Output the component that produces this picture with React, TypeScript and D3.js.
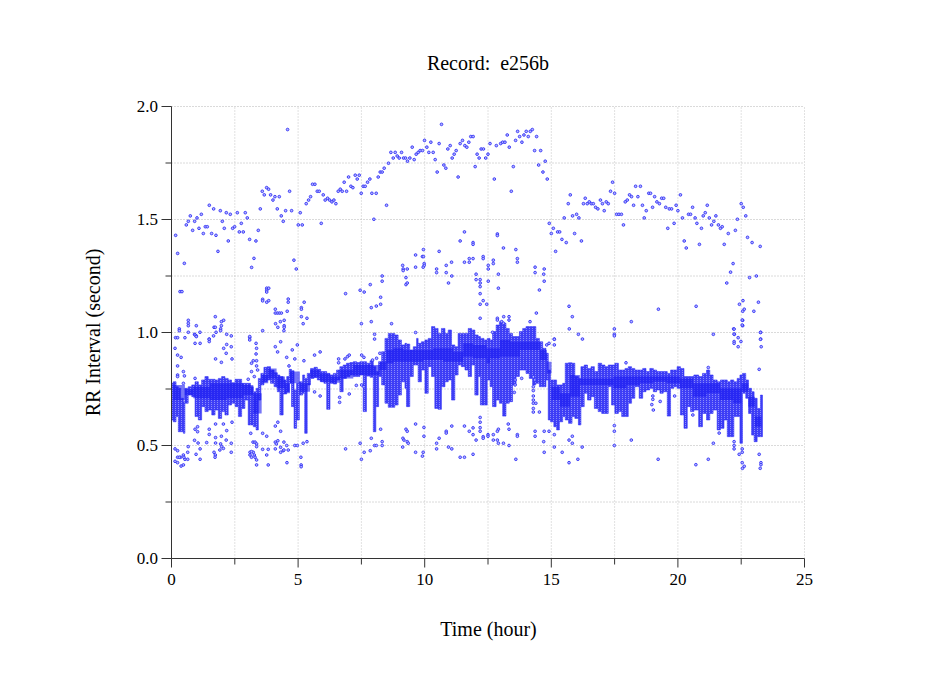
import React from "react";
import * as d3 from "d3";

const title = "Record:  e256b";
const xTitle = "Time (hour)";
const yTitle = "RR Interval (second)";
const xMajor = [0, 5, 10, 15, 20, 25];
const xMinor = [2.5, 7.5, 12.5, 17.5, 22.5];
const yMajor = [0, 0.5, 1, 1.5, 2];
const yMinor = [0.25, 0.75, 1.25, 1.75];

// Dense beat band: [hour, top of band, bottom of band]
const bandLeft: number[][] = [
[0.01,.775,.613],[.07,.782,.605],[.18,.76,.628],[.27,.753,.561],[.36,.709,.561],[.47,.694,.554],[.53,.753,.687],[.66,.76,.723],[.8,.768,.716],[.93,.782,.628],[1.06,.768,.613],[1.19,.79,.672],[1.32,.805,.65],[1.45,.793,.657],[1.59,.793,.635],[1.72,.79,.657],[1.85,.797,.62],[1.98,.805,.65],[2.11,.797,.635],[2.24,.79,.679],[2.37,.778,.687],[2.51,.793,.672],[2.64,.793,.628],[2.77,.775,.664],[2.9,.775,.701],[3.03,.775,.591],[3.12,.76,.591],[3.23,.738,.583],[3.34,.753,.569],[3.43,.797,.701],[3.53,.819,.768],[3.65,.846,.782],[3.78,.849,.79],[3.91,.834,.775],[4.05,.822,.76],[4.18,.812,.738],[4.28,.805,.635],[4.41,.79,.728],[4.55,.805,.738],[4.65,.837,.775],[4.74,.831,.672],[4.84,.746,.576],[4.94,.775,.613],[5.05,.782,.723],[5.18,.812,.731],[5.26,.797,.554],[5.36,.819,.768],[5.49,.841,.797],[5.63,.846,.801],[5.76,.837,.79],[5.89,.827,.782],[6.02,.827,.775],[6.13,.819,.66],[6.26,.812,.775],[6.39,.819,.772],[6.52,.834,.79],[6.65,.849,.738],[6.78,.856,.797],[6.91,.864,.805],[7.05,.867,.812],[7.18,.871,.805],[7.31,.867,.805],[7.44,.871,.812],[7.57,.871,.65],[7.7,.864,.807],[7.84,.875,.802],[7.97,.849,.561],[8.07,.827,.672],[8.18,.871,.805],
];
const bandMiddle: number[][] = [
[8.3,.915,.768],[8.43,.974,.687],[8.56,.996,.669],[8.69,.996,.669],[8.82,.989,.679],[8.95,.967,.723],[9.08,.945,.782],[9.22,.952,.753],[9.28,.949,.672],[9.41,.923,.805],[9.55,.937,.856],[9.68,.974,.856],[9.74,.952,.782],[9.87,.959,.834],[10.01,.967,.731],[10.14,.974,.849],[10.27,1.026,.805],[10.4,1.018,.664],[10.53,.996,.66],[10.66,1.018,.76],[10.8,.996,.782],[10.93,1.011,.79],[11.06,.945,.701],[11.19,.937,.812],[11.32,.996,.856],[11.45,.996,.849],[11.59,.996,.834],[11.72,1.018,.805],[11.85,1.011,.856],[11.98,.989,.723],[12.11,.982,.805],[12.2,.974,.679],[12.34,.967,.679],[12.47,.974,.79],[12.58,.967,.76],[12.68,1.004,.672],[12.82,1.033,.701],[12.95,1.048,.687],[13.08,1.041,.63],[13.21,1.018,.687],[13.34,.996,.694],[13.47,.982,.768],[13.61,.982,.805],[13.74,1.004,.834],[13.87,1.018,.834],[14,1.026,.819],[14.13,1.026,.797],[14.26,1.026,.768],[14.39,.974,.775],[14.53,.959,.76],[14.66,.93,.76],[14.79,.908,.79],
];
const bandRight: number[][] = [
[14.88,.834,.613],[14.97,.79,.605],[15.1,.79,.583],[15.21,.768,.569],[15.32,.768,.605],[15.45,.775,.628],[15.55,.864,.613],[15.68,.866,.598],[15.82,.864,.628],[15.93,.805,.62],[16.07,.797,.591],[16.17,.849,.672],[16.3,.856,.731],[16.43,.841,.701],[16.57,.849,.716],[16.7,.827,.664],[16.85,.864,.65],[16.99,.856,.642],[17.12,.849,.642],[17.25,.856,.76],[17.38,.856,.679],[17.51,.864,.642],[17.65,.834,.65],[17.78,.834,.628],[17.91,.841,.628],[18.04,.849,.687],[18.17,.841,.709],[18.3,.834,.76],[18.47,.834,.709],[18.61,.841,.738],[18.74,.827,.746],[18.89,.841,.753],[19.03,.834,.738],[19.16,.827,.746],[19.29,.827,.731],[19.42,.827,.738],[19.58,.819,.63],[19.71,.834,.753],[19.84,.834,.76],[19.97,.849,.753],[20.1,.841,.635],[20.24,.805,.576],[20.37,.805,.672],[20.5,.805,.65],[20.63,.812,.657],[20.82,.805,.583],[20.97,.819,.642],[21.13,.834,.613],[21.26,.812,.642],[21.39,.79,.657],[21.55,.782,.569],[21.68,.79,.576],[21.82,.79,.613],[21.95,.782,.539],[22.08,.79,.539],[22.21,.782,.628],[22.34,.797,.628],[22.45,.812,.51],[22.55,.819,.731],[22.68,.79,.709],[22.79,.753,.642],[22.91,.738,.546],[23.01,.709,.517],[23.13,.664,.539],[23.26,.723,.539],[23.34,.709,.539],
];
// Darkest part of the band: [hour, top, bottom]
const bandCore: number[][] = [
[.07,.768,.701],[.53,.749,.723],[.86,.76,.709],[1.52,.775,.701],[2.18,.775,.709],[2.84,.768,.723],[3.23,.731,.642],[3.56,.812,.775],[3.82,.841,.797],[4.15,.805,.753],[4.48,.775,.731],[4.68,.827,.775],[5.07,.775,.738],[5.47,.834,.801],[5.86,.819,.782],[6.26,.805,.778],[6.65,.834,.797],[7.18,.856,.812],[7.7,.856,.812],[8.23,.871,.834],[8.49,.923,.864],[8.76,.93,.871],[9.15,.923,.871],[9.55,.923,.871],[9.94,.923,.878],[10.33,.93,.878],[10.73,.93,.871],[11.12,.915,.871],[11.52,.952,.893],[11.91,.945,.886],[12.44,.93,.864],[12.58,.93,.886],[12.97,.967,.893],[13.37,.959,.893],[13.76,.959,.923],[14.16,.959,.923],[14.55,.923,.878],[14.82,.871,.819],[15.01,.76,.701],[15.34,.731,.672],[15.74,.812,.716],[16.13,.797,.768],[16.79,.797,.768],[17.45,.805,.753],[17.97,.805,.768],[18.5,.805,.775],[19.03,.805,.782],[19.55,.805,.775],[20.08,.797,.753],[20.6,.775,.716],[21.13,.775,.731],[21.66,.753,.701],[22.18,.753,.687],[22.51,.775,.738],[22.78,.716,.672],[23.04,.628,.583],[23.3,.628,.583],
];

const arcLeft: number[][] = [
[.164,1.43],[.243,1.35],[.507,1.306],[.335,1.181],[.414,1.181],[.585,1.476],[.664,1.492],[.743,1.516],[.835,1.452],[.914,1.492],[1.007,1.507],[1.085,1.461],[1.178,1.523],[1.257,1.438],[1.335,1.468],[1.414,1.468],[1.493,1.563],[1.585,1.438],[1.664,1.547],[1.757,1.43],[1.835,1.359],[1.928,1.539],[2.007,1.492],[2.085,1.461],[2.164,1.53],[2.243,1.405],[2.322,1.523],[2.414,1.461],[2.493,1.468],[2.6,1.53],[2.678,1.445],[2.757,1.483],[2.835,1.445],[2.914,1.53],[2.993,1.507],[3.085,1.412],[3.164,1.288],[3.257,1.328],[3.335,1.405],[3.428,1.452],[3.507,1.547],[3.585,1.625],[3.664,1.609],[3.757,1.641],[3.835,1.634],[3.914,1.609],[4.007,1.586],[4.085,1.601],[4.178,1.547],[4.257,1.601],[4.335,1.516],[4.414,1.492],[4.507,1.539],[4.585,1.898],[4.664,1.625],[4.743,1.539],[4.835,1.32],[4.928,1.281],[5.007,1.476],[5.085,1.53],[5.164,1.476],[5.32,1.57],[5.414,1.586],[5.493,1.601],[5.57,1.656],[5.664,1.656],[5.757,1.625],[5.835,1.625],[5.914,1.483],[5.993,1.609],[6.07,1.586],[6.164,1.594],[6.243,1.586],[6.335,1.578],[6.414,1.586],[6.493,1.57],[6.585,1.625],[6.664,1.634],[6.743,1.625],[6.82,1.665],[6.914,1.625],[6.993,1.688],[7.085,1.647],[7.164,1.641],[7.257,1.696],[7.335,1.679],[7.414,1.696],[7.493,1.616],[7.57,1.647],[7.65,1.647],[7.743,1.665],[7.835,1.679],[7.914,1.616],[7.993,1.501],[8.085,1.616],[8.164,1.688],[8.243,1.71],[8.32,1.71],[8.4,1.727],[8.493,1.563],[8.57,1.749],[8.664,1.797],[8.757,1.772],[8.835,1.797],[8.914,1.781],[8.993,1.772],[9.085,1.797],[9.164,1.772],[9.243,1.772],[9.32,1.758],[9.414,1.772],[9.507,1.82],[9.585,1.765],[9.664,1.789],[9.743,1.797],[9.82,1.805],[9.914,1.805],[9.993,1.85],[10.085,1.82],[10.164,1.797],[10.243,1.842],[10.335,1.797],[10.414,1.765],[10.493,1.71],[10.57,1.836],[10.664,1.921],[10.757,1.741],[10.835,1.727],[10.914,1.812],[11.007,1.827],[11.085,1.772],[11.164,1.789],[11.243,1.805],[11.32,1.688],[11.4,1.836],[11.493,1.85],[11.585,1.827],[11.664,1.82],[11.743,1.842],[11.82,1.867],[11.914,1.867],[11.993,1.734],[12.07,1.789],[12.15,1.772],[12.23,1.812],[12.32,1.812],[12.41,1.772],[12.5,1.789],
];
const arcRight: number[][] = [
[12.58,1.836],[12.75,1.679],[12.83,1.827],[13,1.836],[13.08,1.842],[13.17,1.842],[13.26,1.874],[13.34,1.82],[13.42,1.625],[13.5,1.734],[13.59,1.85],[13.67,1.89],[13.75,1.867],[13.84,1.842],[13.92,1.874],[14.01,1.89],[14.09,1.867],[14.17,1.89],[14.25,1.898],[14.34,1.805],[14.42,1.867],[14.5,1.741],[14.58,1.805],[14.67,1.71],[14.76,1.758],[14.84,1.679],[14.92,1.483],[15,1.438],[15.08,1.461],[15.17,1.359],[15.25,1.445],[15.33,1.445],[15.42,1.412],[15.51,1.507],[15.59,1.398],[15.67,1.57],[15.75,1.609],[15.84,1.516],[15.92,1.438],[16,1.523],[16.09,1.507],[16.19,1.405],[16.27,1.57],[16.34,1.594],[16.42,1.57],[16.5,1.578],[16.58,1.57],[16.66,1.57],[16.75,1.554],[16.84,1.547],[16.94,1.586],[17.02,1.57],[17.09,1.539],[17.17,1.578],[17.25,1.57],[17.34,1.625],[17.42,1.665],[17.5,1.616],[17.58,1.523],[17.67,1.523],[17.77,1.523],[17.85,1.476],[17.92,1.578],[18,1.586],[18.09,1.609],[18.17,1.601],[18.25,1.563],[18.33,1.647],[18.42,1.601],[18.52,1.647],[18.6,1.563],[18.67,1.507],[18.75,1.539],[18.85,1.616],[18.92,1.616],[19,1.554],[19.08,1.601],[19.17,1.578],[19.27,1.57],[19.36,1.594],[19.44,1.594],[19.52,1.554],[19.6,1.461],[19.66,1.547],[19.75,1.547],[19.85,1.483],[19.93,1.563],[20,1.539],[20.1,1.609],[20.18,1.507],[20.25,1.405],[20.33,1.374],[20.42,1.523],[20.5,1.523],[20.58,1.554],[20.68,1.507],[20.75,1.483],[20.85,1.39],[20.93,1.461],[21,1.516],[21.08,1.53],[21.16,1.563],[21.24,1.507],[21.33,1.476],[21.42,1.492],[21.5,1.516],[21.6,1.476],[21.68,1.461],[21.75,1.468],[21.83,1.39],[21.99,1.438],[22.18,1.305],[22.08,1.267],[21.93,1.219],[22.27,1.452],[22.35,1.501],[22.5,1.57],[22.58,1.554],[22.68,1.516],[22.75,1.421],[22.83,1.243],[22.93,1.398],[23.1,1.25],[23.25,1.381],[23.18,1.134],[23,1.094],[22.62,1.103],[22.56,1.094],[22.57,1.141],[22.43,1.125],[22.2,1.016],[22.56,1.054],[22.56,1.03],[22.23,.992],[22.38,.977],[23.27,1.001],[23.27,.971],
];
const midScatter: number[][] = [
[12.87,1.436],[12.87,1.429],[13.11,1.374],[13.6,1.367],[13.66,1.327],[13.66,1.311],[14.36,1.289],[14.36,1.265],[14.72,1.281],[14.7,1.258],[14.72,1.227],[14.53,1.188],[14.41,1.086],[14.16,1.048],[12.71,1.32],[12.71,1.305],[12.51,1.297],[12.51,1.281],[12.31,1.336],[12.31,1.327],[12.91,1.258],[12.51,1.227],[12.91,1.196],[12.31,1.141],[12.45,1.125],[12.87,1.063],[12.87,1.055],[13.12,1.07],[13.33,1.07],[13.33,1.055],[13.04,1.048],[13.11,1.041],[12.68,1.001],[15.7,1.116],[15.83,1.07],[15.71,1.016],[16.07,.992],[16.23,.971],[15.12,.971],[17.49,1.016],[17.49,.992],[17.49,.985],[18.16,1.048],[19.23,1.103],[20.72,1.116],[21.4,.992],
[6.875,1.172],[7.45,1.187],[7.61,1.179],[7.85,1.212],[7.89,1.11],[8.09,1.117],[8.26,1.156],[8.26,1.125],[8.32,1.227],[8.32,1.25],[7.89,1.048],[7.5,1.039],[8.02,.992],[8.02,.971],[8.69,1.039],[9.13,1.297],[9.15,1.281],[9.15,1.274],[9.31,1.281],[9.26,1.243],[9.26,1.212],[9.31,1.219],[9.64,1.343],[9.64,1.289],[9.91,1.336],[9.95,1.336],[9.95,1.367],[9.98,1.305],[9.98,1.297],[9.94,1.289],[10.57,1.359],[10.47,1.281],[10.47,1.265],[10.85,1.297],[10.85,1.265],[11.06,1.311],[11.07,1.25],[10.94,1.219],[11.4,1.405],[11.57,1.445],[11.57,1.311],[11.76,1.327],[11.76,1.311],[11.91,1.398],[11.91,1.39],[11.91,1.327],[12.03,1.258],[12.03,1.234],[12.19,1.234],[12.19,1.219],[12.19,1.203],[12.19,1.172],[12.19,1.125],[12.19,1.063],
[.309,1.016],[.309,1.008],[.664,1.054],[.664,1.041],[.664,1.03],[.664,1.001],[.98,1.03],[1.125,1.001],[1.73,1.07],[1.68,1.023],[1.73,1.023],[1.97,1.048],[2.06,1.054],[1.94,1.016],[1.94,1.008],[1.97,1.03],[1.76,1.001],[2.18,.992],[2.36,.985],[1.66,.985],[1.49,.971],[.91,.992],[.98,.985],[.53,.977],[.16,.977],[.24,.977],[3.09,.977],[3.6,1.008],[3.6,1.147],[3.6,1.14],[3.76,1.196],[3.84,1.196],[3.76,1.187],[3.76,1.179],[3.76,1.134],[3.84,1.141],[4.1,1.103],[4.1,1.086],[4.18,1.086],[4.26,1.086],[4.34,1.086],[4.11,1.039],[4.3,1.048],[4.45,1.054],[4.2,1.023],[4.45,1.03],[4.45,1.023],[4.44,1.008],[4.57,1.094],[4.61,1.148],[4.61,1.134],[5.13,1.11],[5.13,1.103],[5.24,1.134],[5.13,1.07],[5.35,1.063],[5.2,1.039],
];
const nearBandScatter: number[][] = [
[.93,.989],[.98,.982],[.93,.952],[1.13,.952],[1.49,.97],[1.49,.96],[2.18,.947],[2.36,.937],[2.06,.93],[2.16,.908],[1.74,.883],[1.97,.868],[2.39,.883],[.14,.93],[.24,.9],[.38,.89],[.24,.852],[.24,.812],[.24,.805],[.47,.827],[.51,.808],[.93,.797],[.47,.775],[3.09,.982],[3.09,.967],[3.34,.952],[3.36,.93],[3.34,.905],[3.23,.875],[3.16,.864],[3.36,.875],[3.36,.852],[3.16,.827],[3.4,.834],[3.03,.793],[3.27,.805],[4.1,.937],[4.31,.959],[4.19,.914],[4.55,.89],[4.77,.923],[4.97,.945],[4.87,.883],[4.64,.852],[5.23,.875],[5.65,.9],[5.87,.914],[6.6,.883],[6.6,.866],[6.85,.883],[6.95,.893],[7.02,.9],[7.51,.9],[7.6,.89],[8.23,.908],[8.1,.886],[7.94,.878],[5.65,.737],[5.87,.719],[6.64,.713],[6.64,.691],[7.02,.728],[7.3,.766],[7.51,.768],[7.6,.76],[9.64,1],
[14.29,.76],[14.29,.743],[14.29,.719],[14.29,.701],[14.29,.687],[14.29,.664],[14.29,.648],[14.39,.687],[14.53,.648],[13.83,.797],[14.29,.804],[14.35,.79],[13.54,.735],[13.57,.79],[13.57,.768],[15.12,.97],[15.12,.945],[14.82,.945],[14.91,.952],[22.22,1.015],[22.22,.993],[22.22,.96],[22.22,.952],[22.38,.937],[22.49,.96],[22.54,1.055],[22.54,1.033],[23.21,.837],[23.26,1],[23.26,.97],[23.29,.937],[17.95,.866],[21.2,.845],[18.97,.681],[19.03,.657],[19.01,.719],[19.01,.704],[19.3,.695],[19.87,.719],[20.59,.635],
];
const lowScatter: number[][] = [
[.93,.572],[1.03,.583],[1.03,.561],[1.49,.572],[1.74,.595],[2.05,.595],[2.18,.566],[2.39,.603],[1.49,.549],[1.74,.535],[1.97,.541],[2.16,.524],[.91,.523],[1.05,.511],[1.39,.513],[1.74,.511],[1.94,.507],[1.98,.495],[2.05,.487],[2.36,.51],[2.36,.47],[.14,.485],[.24,.477],[.36,.448],[.47,.458],[.64,.47],[.66,.495],[1.13,.485],[.97,.461],[1.13,.439],[.14,.43],[.24,.448],[.31,.448],[.24,.424],[.38,.409],[.47,.414],[.53,.439],[.64,.439],[.49,.448],[1.68,.47],[1.73,.458],[1.72,.448],[1.91,.48],[3.13,.554],[3.22,.515],[3.3,.515],[3.36,.507],[3.36,.495],[3.1,.47],[3.1,.458],[3.16,.448],[3.27,.458],[3.3,.448],[3.36,.436],[3.36,.414],[3.23,.47],[3.16,.473],[3.6,.554],[3.76,.541],[3.6,.483],[3.82,.483],[3.76,.458],[3.82,.414],[4.1,.586],[4.2,.603],[4.31,.563],[4.1,.515],[4.2,.521],[4.14,.507],[4.1,.485],[4.31,.492],[4.44,.515],[4.55,.5],[4.31,.47],[4.41,.477],[4.61,.48],[4.44,.48],[4.56,.424],[4.87,.5],[4.97,.5],[5.11,.448],[5.12,.414],[5.12,.406],[5.2,.51],[5.35,.517],[6.875,.485],[7.45,.51],[7.61,.47],[7.5,.439],[7.85,.477],[8.02,.5],[8.09,.5],[8.32,.517],[8.32,.5],[7.89,.532],[8.26,.572],[9.13,.493],[9.14,.532],[9.18,.524],[9.31,.517],[9.35,.51],[9.26,.572],[9.31,.563],[9.64,.595],[9.64,.47],[9.94,.47],[9.91,.453],[9.97,.58],[9.97,.541],[10.47,.51],[10.47,.485],[10.57,.532],[10.85,.563],[10.85,.555],[10.94,.493],[11.07,.485],[11.07,.586],[11.4,.448],[11.57,.448],[11.57,.586],[11.76,.563],[11.91,.578],[11.91,.548],[11.91,.461],[12.03,.524],[12.19,.624],[12.19,.603],[12.19,.579],[12.19,.563],[12.31,.539],[12.31,.532],[12.5,.548],[12.5,.541],
[12.71,.548],[12.91,.572],[12.87,.563],[12.71,.524],[12.87,.524],[12.91,.51],[13.11,.51],[13.33,.5],[13.6,.439],[13.66,.548],[13.66,.541],[13.3,.595],[13.33,.572],[14.36,.563],[14.36,.541],[14.72,.563],[14.91,.563],[14.7,.517],[14.72,.47],[15.12,.548],[15.12,.493],[15.43,.47],[15.7,.524],[15.83,.541],[15.83,.51],[15.7,.424],[16.05,.439],[16.22,.493],[17.49,.588],[17.49,.563],[17.49,.5],[18.16,.524],[19.22,.439],[20.71,.415],[21.2,.439],[21.4,.51],[21.63,.555],[22.22,.517],[22.22,.5],[22.22,.485],[22.42,.461],[22.54,.485],[22.54,.47],[22.54,.424],[22.62,.408],[22.55,.399],[23.21,.461],[23.28,.424],[23.28,.415],[23.25,.399],
];

const x = d3.scaleLinear().domain([0, 25]).range([171.5, 804.5]);
const y = d3.scaleLinear().domain([0, 2]).range([558.5, 106.5]);
const serif = "'Liberation Serif', 'Times New Roman', serif";
const blue = "#2a2af5";

export default function App() {
  const band = [...bandLeft, ...bandMiddle, ...bandRight];
  const outer = d3.area<number[]>().x(d => x(d[0])).y0(d => y(d[2])).y1(d => y(d[1])).curve(d3.curveStepAfter);
  const core = d3.area<number[]>().x(d => x(d[0])).y0(d => y(d[2])).y1(d => y(d[1])).curve(d3.curveStepAfter);
  const points = [...arcLeft, ...arcRight, ...midScatter, ...nearBandScatter, ...lowScatter];
  return (
    <svg width={949} height={697} style={{ position: "absolute", left: 0, top: 0, background: "#fff" }} fontFamily={serif}>
      <defs>
        <pattern id="beats" width={3} height={2} patternUnits="userSpaceOnUse">
          <rect width={3} height={2} fill="#3e3ef6" />
          <rect x={1} y={0} width={1} height={1} fill="#8a8afa" />
        </pattern>
      </defs>
      {[...yMajor, ...yMinor].filter(v => v > 0).map(v => (
        <line key={v} x1={x(0)} x2={x(25)} y1={y(v)} y2={y(v)} stroke="#b4b4b4" strokeDasharray="1 2" />
      ))}
      {[...xMajor, ...xMinor].filter(v => v > 0).map(v => (
        <line key={v} x1={x(v)} x2={x(v)} y1={y(0)} y2={y(2)} stroke="#c4c4c4" strokeDasharray="1 2" />
      ))}
      <path d={outer(band) ?? ""} fill="url(#beats)" stroke={blue} strokeWidth={1} strokeOpacity={0.55} />
      <path d={core(bandCore) ?? ""} fill="#1a1af2" fillOpacity={0.6} />
      {points.map((p, i) => (
        <circle key={i} cx={x(p[0])} cy={y(p[1])} r={1.35} fill="#b4b4ff" stroke={blue} strokeWidth={0.85} />
      ))}
      <line x1={x(0)} x2={x(0)} y1={y(0)} y2={y(2)} stroke="#333" />
      <line x1={x(0)} x2={x(25)} y1={y(0)} y2={y(0)} stroke="#333" />
      {yMajor.map(v => (
        <g key={v}>
          <line x1={x(0) - 10} x2={x(0)} y1={y(v)} y2={y(v)} stroke="#333" />
          <text x={158} y={y(v)} dy="0.34em" textAnchor="end" fontSize={17}>{d3.format(".1f")(v)}</text>
        </g>
      ))}
      {yMinor.map(v => (
        <line key={v} x1={x(0) - 6} x2={x(0)} y1={y(v)} y2={y(v)} stroke="#333" />
      ))}
      {xMajor.map(v => (
        <g key={v}>
          <line x1={x(v)} x2={x(v)} y1={y(0)} y2={y(0) + 9} stroke="#333" />
          <text x={x(v)} y={585} textAnchor="middle" fontSize={17}>{v}</text>
        </g>
      ))}
      {xMinor.map(v => (
        <line key={v} x1={x(v)} x2={x(v)} y1={y(0)} y2={y(0) + 6} stroke="#333" />
      ))}
      <text x={488} y={70} textAnchor="middle" fontSize={20} style={{ whiteSpace: "pre" }}>{title}</text>
      <text x={488.5} y={636} textAnchor="middle" fontSize={20}>{xTitle}</text>
      <text transform="translate(100,332.5) rotate(-90)" textAnchor="middle" fontSize={20}>{yTitle}</text>
    </svg>
  );
}
